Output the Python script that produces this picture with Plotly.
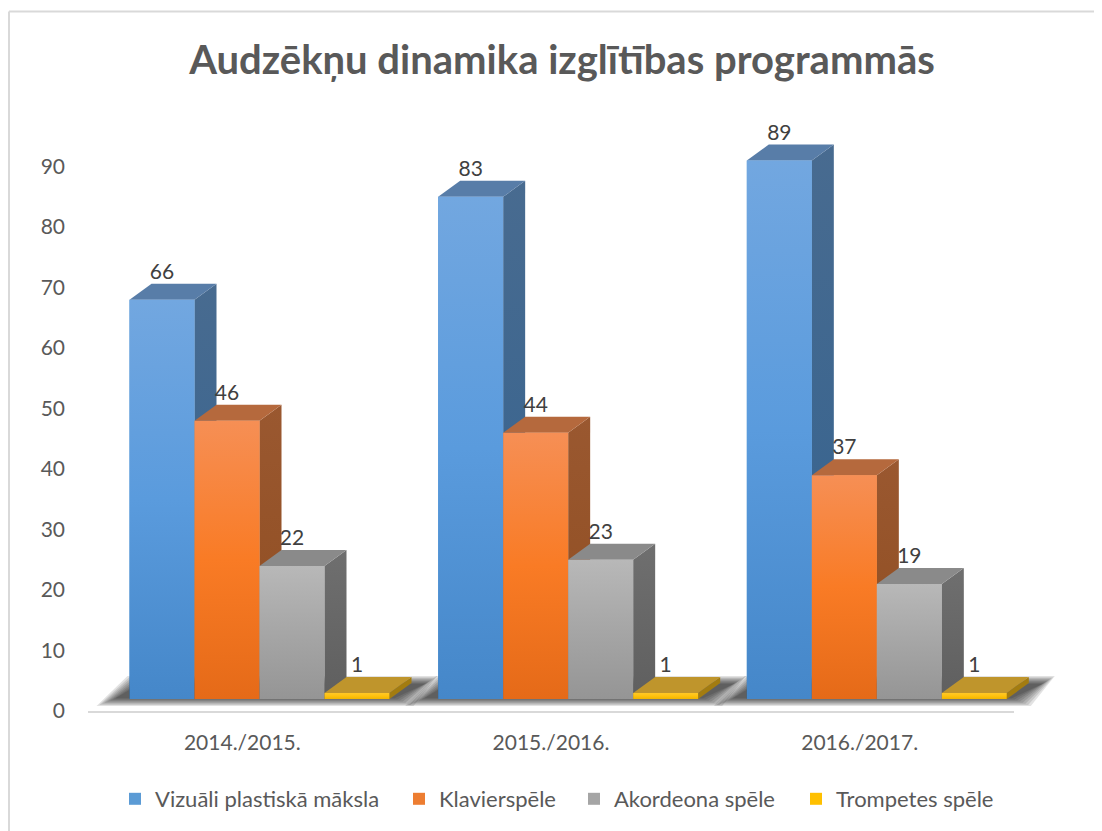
import plotly.graph_objects as go

categories = ["2014./2015.", "2015./2016.", "2016./2017."]
series_names = ["Vizuāli plastiskā māksla", "Klavierspēle", "Akordeona spēle", "Trompetes spēle"]
vizuali = [66, 83, 89]
klavier = [46, 44, 37]
akordeons = [22, 23, 19]
trompete = [1, 1, 1]
y_ticks = [0, 10, 20, 30, 40, 50, 60, 70, 80, 90]
title = "Audzēkņu dinamika izglītības programmás".replace("á", "ā")

FONT = "Lato"
series_values = [vizuali, klavier, akordeons, trompete]
legend_colors = ["#5B9BD5", "#ED7D31", "#A5A5A5", "#FFC000"]
front_top = ["#72A7E0", "#F68F55", "#B8B8B8", "#FFC828"]
front_mid = ["#5A9BDD", "#F97B25", "#A6A6A6", "#FFC20E"]
front_bot = ["#4587C9", "#E56A18", "#959595", "#F0B400"]
side_top = ["#486B90", "#9A5830", "#6F6F6F", "#A37C10"]
side_bot = ["#33628F", "#8F4D20", "#5F5F5F", "#A37C10"]
top_face = ["#587DA8", "#B5693D", "#8A8A8A", "#BF952C"]
legend_px = [107, 391, 566, 788]

# pixel geometry of the plot frame (page adds an 8px body margin)
W, H = 1094, 823
px_y = 6.055
px_x = 926 / 3
YMAX = 100
L, R, B = 80, 0, 120
T = H - B - YMAX * px_y
XMAX = -0.5 + (W - L - R) / px_x
LIFT = 12 / px_y
BAR_W = 65 / px_x
DX = 22 / px_x
DY = 16 / px_y
SHIFT = 0.0556
xs = [i + SHIFT for i in range(3)]

fig = go.Figure()

# real bars
for s, name in enumerate(series_names):
    fig.add_trace(go.Bar(x=xs, y=series_values[s], base=LIFT, name=name, marker_color=legend_colors[s],
                         marker_line_width=0, offsetgroup=str(s), hoverinfo="skip",
                         legend="legend" if s == 0 else f"legend{s + 1}"))

# floor shadow
for c in xs:
    gl = c - 2 * BAR_W
    gr = c + 2 * BAR_W
    for k in range(8):
        ins = (7 - k) * 1.7
        a, b = ins / px_x, ins * 0.65 / px_y
        fig.add_trace(go.Scatter(
            x=[gl - 33 / px_x + 1.6 * a, gl - 2 / px_x + a, gr + 48 / px_x - a, gr + 24 / px_x - 1.6 * a],
            y=[LIFT - 7 / px_y + b, LIFT + 23 / px_y - b, LIFT + 23 / px_y - b, LIFT - 7 / px_y + b],
            mode="lines", line_width=0, fill="toself", fillcolor="rgba(0,0,0,0.115)",
            showlegend=False, hoverinfo="skip", cliponaxis=False))

# 3-D faces, painted left to right inside each group
for c_i, c in enumerate(xs):
    for s in range(4):
        v = series_values[s][c_i]
        x0 = c - 2 * BAR_W + s * BAR_W
        x1 = x0 + BAR_W
        y0, y1 = LIFT, LIFT + v
        fig.add_trace(go.Scatter(
            x=[x1, x1 + DX, x1 + DX, x1], y=[y0, y0 + DY, y1 + DY, y1],
            mode="lines", line_width=0, fill="toself",
            fillgradient=dict(type="vertical", colorscale=[[0, side_bot[s]], [1, side_top[s]]]),
            showlegend=False, hoverinfo="skip", cliponaxis=False))
        fig.add_trace(go.Scatter(
            x=[x0, x0 + DX, x1 + DX, x1], y=[y1, y1 + DY, y1 + DY, y1],
            mode="lines", line_width=0, fill="toself", fillcolor=top_face[s],
            showlegend=False, hoverinfo="skip", cliponaxis=False))
        fig.add_trace(go.Scatter(
            x=[x0, x0, x1, x1], y=[y0, y1, y1, y0],
            mode="lines", line_width=0, fill="toself",
            fillgradient=dict(type="vertical",
                              colorscale=[[0, front_bot[s]], [0.5, front_mid[s]], [1, front_top[s]]]),
            showlegend=False, hoverinfo="skip", cliponaxis=False))

# value labels
for s in range(4):
    fig.add_trace(go.Scatter(
        x=[c - 2 * BAR_W + (s + 0.5) * BAR_W for c in xs],
        y=[LIFT + v + 26 / px_y for v in series_values[s]],
        text=[str(v) for v in series_values[s]],
        mode="text", textposition="middle center",
        textfont=dict(family=FONT, size=21, color="#404040"),
        showlegend=False, hoverinfo="skip", cliponaxis=False))

legends = {}
for s in range(4):
    key = "legend" if s == 0 else f"legend{s + 1}"
    legends[key] = dict(orientation="h", xref="container", yref="container", x=legend_px[s] / W, xanchor="left",
                        y=1 - 791 / H, yanchor="middle", itemwidth=30,
                        font=dict(family=FONT, size=22, color="#595959"), bgcolor="rgba(0,0,0,0)")

pw, ph = W - L - R, H - T - B
fig.update_layout(
    width=W, height=H,
    margin=dict(l=L, r=R, t=T, b=B, autoexpand=False),
    paper_bgcolor="white", plot_bgcolor="white",
    barmode="group", bargap=1 - 4 * BAR_W, bargroupgap=0,
    title=dict(text=title, x=554 / W, xanchor="center", y=1 - 52 / H, yanchor="middle",
               font=dict(family=FONT, size=40, color="#595959", weight="bold")),
    xaxis=dict(range=[-0.5, XMAX], tickvals=[0, 1, 2], ticktext=categories, showgrid=False, zeroline=False,
               showline=False, ticks="",
               tickfont=dict(family=FONT, size=21, color="#595959"), ticklabelstandoff=17),
    yaxis=dict(range=[0, YMAX], tickvals=y_ticks, showgrid=False, zeroline=False, showline=False, ticks="",
               tickfont=dict(family=FONT, size=21, color="#595959"), ticklabelstandoff=22),
    showlegend=True,
    shapes=[
        dict(type="line", xref="x", yref="paper", x0=-0.5, x1=2.5, y0=-1 / ph, y1=-1 / ph,
             line=dict(color="#D9D9D9", width=2)),
        dict(type="line", xref="paper", yref="paper", x0=(1 - L) / pw, x1=(W - L) / pw,
             y0=(H - B - 3) / ph, y1=(H - B - 3) / ph, line=dict(color="#D9D9D9", width=2)),
        dict(type="line", xref="paper", yref="paper", x0=(1 - L) / pw, x1=(1 - L) / pw,
             y0=(H - B - 3) / ph, y1=-B / ph, line=dict(color="#D9D9D9", width=2)),
    ],
    **legends,
)
fig.write_html("out.html")
